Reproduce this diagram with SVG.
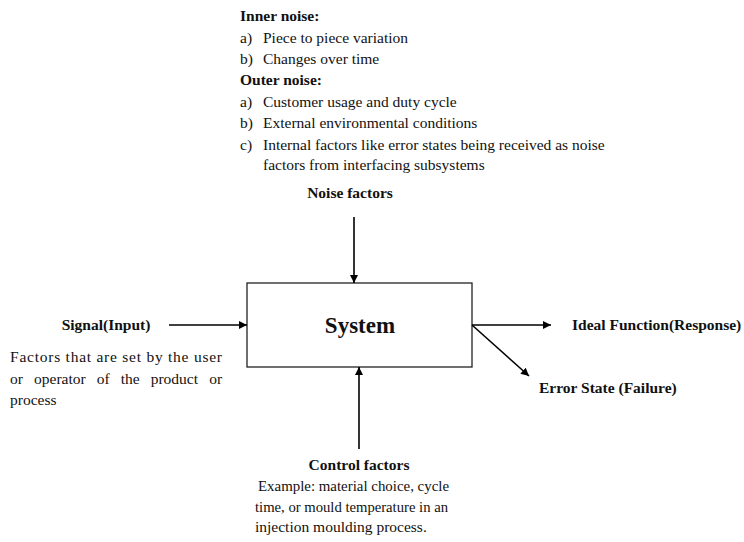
<svg xmlns="http://www.w3.org/2000/svg" width="744" height="542" viewBox="0 0 744 542">
<style>
text{font-family:"Liberation Serif","Times New Roman",serif;font-size:15.5px;fill:#111}
.b{font-weight:bold}
.sys{font-size:23px;font-weight:bold}
.c{text-anchor:middle}
.ln{stroke:#000;stroke-width:1.6;fill:none;marker-end:url(#ah)}
</style>
<defs>
<marker id="ah" viewBox="0 0 10 10" refX="10" refY="5" markerWidth="5" markerHeight="5" orient="auto" markerUnits="strokeWidth">
<path d="M0,0 L10,5 L0,10 z" fill="#000"/>
</marker>
</defs>
<rect width="744" height="542" fill="#fff"/>
<g id="noise-notes">
<text x="240" y="21" class="b">Inner noise:</text>
<text x="240" y="43">a)</text><text x="263" y="43">Piece to piece variation</text>
<text x="240" y="64">b)</text><text x="263" y="64">Changes over time</text>
<text x="240" y="85" class="b">Outer noise:</text>
<text x="240" y="107">a)</text><text x="263" y="107">Customer usage and duty cycle</text>
<text x="240" y="128">b)</text><text x="263" y="128">External environmental conditions</text>
<text x="240" y="150">c)</text><text x="263" y="150">Internal factors like error states being received as noise</text>
<text x="263" y="170">factors from interfacing subsystems</text>
</g>
<g id="noise-factors"><text x="350" y="198" class="b c">Noise factors</text></g>
<g id="system">
<rect x="247" y="283" width="225" height="84" fill="#fff" stroke="#222" stroke-width="1.3"/>
<text x="360" y="333" class="sys c">System</text>
</g>
<g id="signal">
<text x="106" y="330" class="b c">Signal(Input)</text>
<text x="10" y="362" textLength="212" lengthAdjust="spacing">Factors that are set by the user</text>
<text x="10" y="384">or</text><text x="34" y="384">operator</text><text x="96.7" y="384">of</text><text x="120.7" y="384">the</text><text x="150.7" y="384">product</text><text x="209.2" y="384">or</text>
<text x="10" y="405">process</text>
</g>
<g id="ideal"><text x="572" y="330" class="b">Ideal Function(Response)</text></g>
<g id="error"><text x="539" y="393" class="b">Error State (Failure)</text></g>
<g id="control">
<text x="359" y="470" class="b c">Control factors</text>
<text x="258" y="491" textLength="191" lengthAdjust="spacingAndGlyphs">Example: material choice, cycle</text>
<text x="255" y="512" textLength="193" lengthAdjust="spacingAndGlyphs">time, or mould temperature in an</text>
<text x="255" y="532">injection moulding process.</text>
</g>
<g id="connectors">
<line x1="354" y1="217" x2="354" y2="283" class="ln"/>
<line x1="169" y1="325" x2="247" y2="325" class="ln"/>
<line x1="472" y1="325" x2="551" y2="325" class="ln"/>
<line x1="472" y1="325" x2="529" y2="376" class="ln"/>
<line x1="359" y1="449" x2="359" y2="367" class="ln"/>
</g>
</svg>
